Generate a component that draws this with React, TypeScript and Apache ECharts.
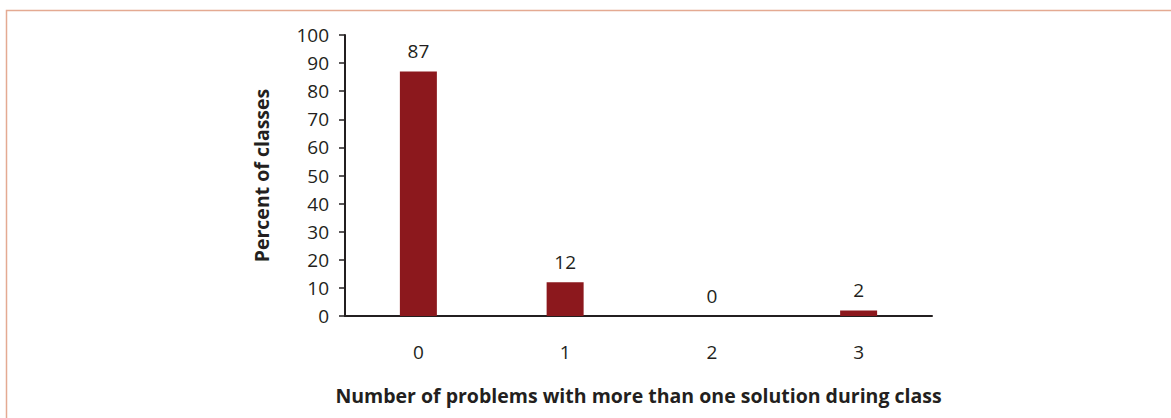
import React, { useEffect, useRef } from "react";
import * as echarts from "echarts";

const categories = ["0", "1", "2", "3"];
const percentOfClasses = [87, 12, 0, 2];
const yTicks = { min: 0, max: 100, interval: 10 };

const FONT = "'Open Sans', 'Noto Sans', sans-serif";
const TEXT = "#231F20";

export default function App() {
  const ref = useRef<HTMLDivElement>(null);

  useEffect(() => {
    if (!ref.current) return;
    const chart = echarts.init(ref.current, undefined, { renderer: "svg" });
    chart.setOption({
      animation: false,
      backgroundColor: "#ffffff",
      textStyle: { fontFamily: FONT, color: TEXT },
      graphic: [
        {
          type: "rect",
          shape: { x: 6.5, y: 10.5, width: 1300, height: 600 },
          style: { fill: "none", stroke: "#E4AA92", lineWidth: 1.5 },
          silent: true,
        },
      ],
      grid: { left: 345, right: 239, top: 35, bottom: 102, containLabel: false },
      xAxis: {
        type: "category",
        data: categories,
        name: "Number of problems with more than one solution during class",
        nameLocation: "middle",
        nameGap: 69,
        nameTextStyle: { fontFamily: FONT, fontWeight: "bold", fontSize: 19.5, color: TEXT },
        axisLine: { lineStyle: { color: TEXT, width: 2 } },
        axisTick: { show: false },
        axisLabel: { fontFamily: FONT, fontSize: 19, color: TEXT, margin: 26 },
        splitLine: { show: false },
      },
      yAxis: {
        type: "value",
        min: yTicks.min,
        max: yTicks.max,
        interval: yTicks.interval,
        name: "Percent of classes",
        nameLocation: "middle",
        nameGap: 74,
        nameRotate: 90,
        nameTextStyle: { fontFamily: FONT, fontWeight: "bold", fontSize: 19.5, color: TEXT },
        axisLine: { show: true, lineStyle: { color: TEXT, width: 2 } },
        axisTick: { show: true, length: 6, lineStyle: { color: TEXT, width: 1.5 } },
        axisLabel: { fontFamily: FONT, fontSize: 19, color: TEXT, margin: 16 },
        splitLine: { show: false },
      },
      series: [
        {
          type: "bar",
          data: percentOfClasses,
          barWidth: 37,
          itemStyle: { color: "#8C181D" },
          label: {
            show: true,
            position: "top",
            distance: 11,
            fontFamily: FONT,
            fontSize: 19,
            color: TEXT,
          },
        },
      ],
    });
    return () => chart.dispose();
  }, []);

  return (
    <div
      ref={ref}
      style={{ position: "fixed", left: 0, top: 0, width: 1171, height: 418 }}
    />
  );
}
